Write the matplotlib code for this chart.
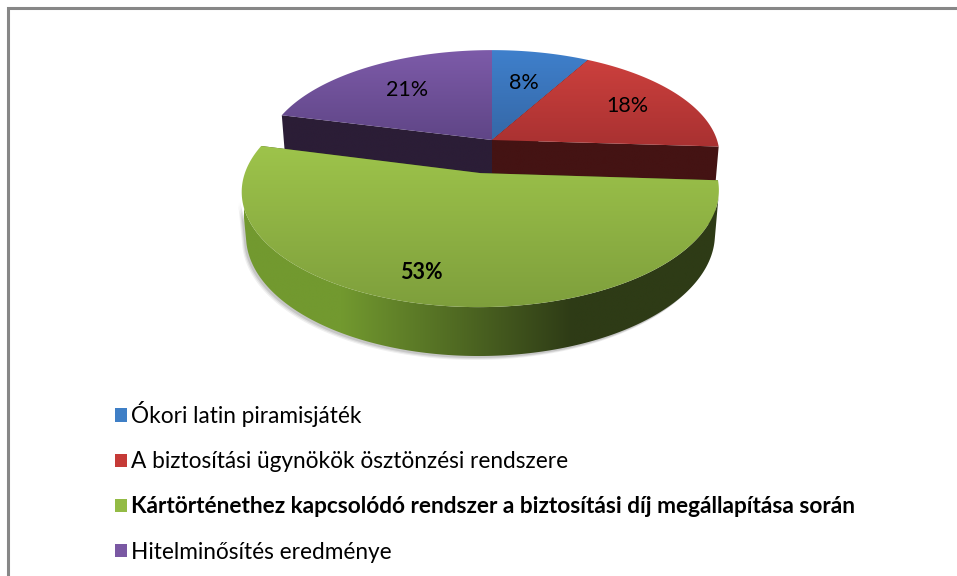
import numpy as np
import matplotlib
matplotlib.use("Agg")
import matplotlib.pyplot as plt
from matplotlib.patches import Polygon, Patch
from matplotlib.colors import to_rgb

# ---------------- data ----------------
categories = [
    "Ókori latin piramisjáték",
    "A biztosítási ügynökök ösztönzési rendszere",
    "Kártörténethez kapcsolódó rendszer a biztosítási díj megállapítása során",
    "Hitelminősítés eredménye",
]
values = [8, 18, 53, 21]
pct_labels = ["8%", "18%", "53%", "21%"]

# ---------------- style ----------------
top_light = ["#3f80cc", "#cc403d", "#9ec44b", "#7d5ba9"]
top_dark = ["#3567a6", "#a83131", "#7e9f3c", "#5f4586"]
wall_left = ["#2f5a8f", "#8a2828", "#72992f", "#4a3468"]
wall_right = ["#1c3556", "#4a1313", "#2e3b16", "#2a1c36"]
face_col = ["#1f3552", "#441313", "#3a4d1a", "#2b1d36"]
legend_col = ["#3f7fc6", "#c53a37", "#93bb45", "#7a58a3"]
explode = [0.0, 0.0, 0.31, 0.0]
label_frac = [0.62, 0.72, 0.8, 0.66]
label_dang = [0.0, 0.0, 6.5, 0.0]
bold_idx = 2

plt.rcParams['font.family'] = ['Lato', 'DejaVu Sans']

W, Hpx = 957, 576
fig = plt.figure(figsize=(W / 100, Hpx / 100), dpi=100)
ax = fig.add_axes([0, 0, 1, 1])
ax.set_xlim(0, W)
ax.set_ylim(Hpx, 0)
ax.axis("off")

# ---------------- 3D projection ----------------
phi = np.radians(27.3)
Dcam = 6.0
R = 1.0
Hh = 0.215
S = 225.0
CX, CY = 492.0, 140.0
C = np.array([0.0, -Dcam * np.cos(phi), Dcam * np.sin(phi)])
fwd = -C / np.linalg.norm(C)
right = np.array([1.0, 0.0, 0.0])
up = np.cross(right, fwd)


def proj(P):
    P = np.atleast_2d(P)
    v = P - C
    depth = v @ fwd
    u = (v @ right) * Dcam / depth
    w = (v @ up) * Dcam / depth
    return np.column_stack([CX + S * u, CY - S * w]), depth


total = float(sum(values))
bounds = np.concatenate([[0], np.cumsum(values)]) / total * 2 * np.pi  # clockwise from 12 o'clock


def rim(theta, off, z):
    return np.column_stack([off[0] + R * np.sin(theta), off[1] + R * np.cos(theta), np.full_like(theta, z)])


def grad_fill(verts, stops, horizontal=False, x_range=None, zorder=1):
    poly = Polygon(verts, closed=True, facecolor="none", edgecolor="none")
    ax.add_patch(poly)
    xs, ys = verts[:, 0], verts[:, 1]
    t = np.linspace(0, 1, 256)
    cols = np.array([np.interp(t, [s[0] for s in stops], [to_rgb(s[1])[k] for s in stops]) for k in range(3)]).T
    if horizontal:
        x0, x1 = x_range
        img = cols[np.newaxis, :, :]
        ext = (x0, x1, ys.max() + 1, ys.min() - 1)
    else:
        img = cols[:, np.newaxis, :]
        ext = (xs.min() - 1, xs.max() + 1, ys.max() + 1, ys.min() - 1)
    im = ax.imshow(img, extent=ext, origin="upper", aspect="auto", interpolation="bilinear", zorder=zorder)
    im.set_clip_path(poly)
    return im


ztop, zbot = 0.0, -Hh
slices = []
for i, v in enumerate(values):
    a0, a1 = bounds[i], bounds[i + 1]
    am = 0.5 * (a0 + a1)
    off = explode[i] * R * np.array([np.sin(am), np.cos(am)])
    cen_depth = proj(np.array([off[0] + 0.5 * np.sin(am), off[1] + 0.5 * np.cos(am), 0]))[1][0]
    slices.append((cen_depth, i, a0, a1, am, off))

# draw from back (largest depth) to front
slices.sort(key=lambda s: -s[0])
z = 2
label_pos = {}
for depth, i, a0, a1, am, off in slices:
    th = np.linspace(a0, a1, 200)
    top_pts = rim(th, off, ztop)
    ctop = np.array([[off[0], off[1], ztop]])
    cbot = np.array([[off[0], off[1], zbot]])
    # radial faces
    for a in (a0, a1):
        e_top = rim(np.array([a]), off, ztop)
        e_bot = rim(np.array([a]), off, zbot)
        quad = np.vstack([ctop, e_top, e_bot, cbot])
        q2, _ = proj(quad)
        grad_fill(q2, [(0, face_col[i]), (1, face_col[i])], zorder=z)
        z += 1
    # outer wall (visible part)
    P = top_pts
    n = np.column_stack([np.sin(th), np.cos(th), np.zeros_like(th)])
    vis = np.einsum("ij,ij->i", n, C - P) > 0
    if vis.any():
        idx = np.where(vis)[0]
        thv = th[idx[0]: idx[-1] + 1]
        wt, _ = proj(rim(thv, off, ztop))
        wb, _ = proj(rim(thv, off, zbot))
        wall = np.vstack([wt, wb[::-1]])
        # soft shadow
        if explode[i] > 0:
            for k, (dx, dy, al) in enumerate([(-4, 4, 0.06), (-3, 3, 0.08), (-2, 2, 0.1)]):
                ax.add_patch(Polygon(wall + np.array([dx, dy]), closed=True, facecolor="#000000",
                                     edgecolor="none", alpha=al, zorder=z))
                z += 1
        xr = (CX - S * 1.1, CX + S * 1.05)
        grad_fill(wall, [(0, wall_left[i]), (0.2, wall_left[i]), (0.68, wall_right[i]), (1, wall_right[i])],
                  horizontal=True, x_range=xr, zorder=z)
        z += 1
    # top face
    tp, _ = proj(np.vstack([ctop, top_pts]))
    grad_fill(tp, [(0, top_light[i]), (1, top_dark[i])], zorder=z)
    z += 1
    # label position
    f = label_frac[i]
    al = am + np.radians(label_dang[i])
    lp, _ = proj(np.array([off[0] + f * R * np.sin(al), off[1] + f * R * np.cos(al), ztop]))
    label_pos[i] = lp[0]

for i in range(len(values)):
    ax.text(label_pos[i][0], label_pos[i][1], pct_labels[i], ha="center", va="center",
            fontsize=15.5, color="black", fontweight="bold" if i == bold_idx else "normal", zorder=100)

# border (top and left visible)
ax.plot([7.5, 7.5, W], [Hpx, 7.5, 7.5], color="#878787", lw=2.2, solid_joinstyle="miter", zorder=200)

# legend
handles = [Patch(facecolor=c, edgecolor="none") for c in legend_col]
leg = ax.legend(handles, categories, loc="upper left", bbox_to_anchor=(115 / W, 1 - 401 / Hpx),
                bbox_transform=fig.transFigure, frameon=False, fontsize=16.3,
                handlelength=0.52, handleheight=0.52, handletextpad=0.2,
                labelspacing=1.07, borderaxespad=0, borderpad=0)
for k, t in enumerate(leg.get_texts()):
    if k == bold_idx:
        t.set_fontweight("bold")

fig.savefig("out.png", dpi=100)
